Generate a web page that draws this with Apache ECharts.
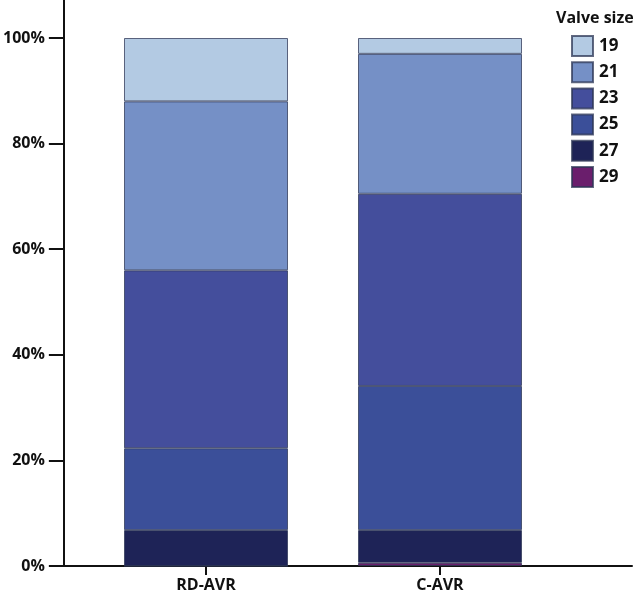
<!DOCTYPE html>
<html>
<head>
<meta charset="utf-8">
<script src="https://cdn.jsdelivr.net/npm/echarts@6/dist/echarts.min.js"></script>
<style>html,body{margin:0;padding:0;background:#fff}#c{width:633px;height:593px}</style>
</head>
<body>
<div id="c"></div>
<script>
const categories = ['RD-AVR', 'C-AVR'];
const sizes = ['19', '21', '23', '25', '27', '29'];
const v19 = [12.0, 3.0];
const v21 = [32.0, 26.5];
const v23 = [33.7, 36.4];
const v25 = [15.5, 27.3];
const v27 = [6.8, 6.2];
const v29 = [0.0, 0.6];
const yTicks = [0, 20, 40, 60, 80, 100];
const colors = {'19':'#b3cae3','21':'#7590c6','23':'#444e9c','25':'#3b4f99','27':'#1e2357','29':'#6a1e6c'};
const valuesBySize = {'19':v19,'21':v21,'23':v23,'25':v25,'27':v27,'29':v29};

const chart = echarts.init(document.getElementById('c'));
const FONT = 'Open Sans';
const Y_MAX = 107.2;
const stackOrder = ['29','27','25','23','21','19'];
const series = stackOrder.map(s => ({
  name: s,
  type: 'bar',
  stack: 'total',
  barWidth: 164,
  xAxisIndex: 0,
  yAxisIndex: 0,
  data: valuesBySize[s],
  itemStyle: {color: colors[s], borderColor: 'rgba(45,55,85,0.75)', borderWidth: 1},
  emphasis: {disabled: true}
}));

chart.setOption({
  animation: false,
  backgroundColor: '#fff',
  title: {
    text: 'Valve size', left: 556, top: 10, padding: 0,
    textStyle: {fontFamily: FONT, fontSize: 16, fontWeight: 'bold', color: '#111'}
  },
  legend: {
    data: sizes, orient: 'vertical', left: 571, top: 35, padding: 0,
    itemWidth: 21, itemHeight: 20, itemGap: 4.2,
    icon: 'rect',
    textStyle: {fontFamily: FONT, fontSize: 17, fontWeight: 'bold', color: '#111', padding: [0,0,0,1]}
  },
  grid: [
    {left: 89, right: 76, top: 0, bottom: 27, containLabel: false},
    {left: 63, right: 1, top: 0, bottom: 27, containLabel: false}
  ],
  xAxis: [
    {
      type: 'category', gridIndex: 0, data: categories,
      axisLine: {show: false},
      axisTick: {show: true, alignWithLabel: true, length: 9, lineStyle: {color: '#111', width: 2}},
      axisLabel: {margin: 11, fontFamily: FONT, fontSize: 16, fontWeight: 'bold', color: '#111'}
    },
    {
      type: 'value', gridIndex: 1, min: 0, max: 1,
      splitLine: {show: false},
      axisLine: {show: true, onZero: false, lineStyle: {color: '#111', width: 2}},
      axisTick: {show: false}, axisLabel: {show: false}
    }
  ],
  yAxis: [
    {
      type: 'value', gridIndex: 0, min: 0, max: Y_MAX,
      show: false, splitLine: {show: false}
    },
    {
      type: 'value', gridIndex: 1, min: 0, max: Y_MAX,
      splitLine: {show: false},
      axisLine: {show: true, onZero: false, lineStyle: {color: '#111', width: 2}},
      axisTick: {show: true, customValues: yTicks, length: 15, lineStyle: {color: '#111', width: 2}},
      axisLabel: {
        customValues: yTicks, margin: 19,
        formatter: v => v + '%',
        fontFamily: FONT, fontSize: 16, fontWeight: 'bold', color: '#111'
      }
    }
  ],
  series: series
});
</script>
</body>
</html>
